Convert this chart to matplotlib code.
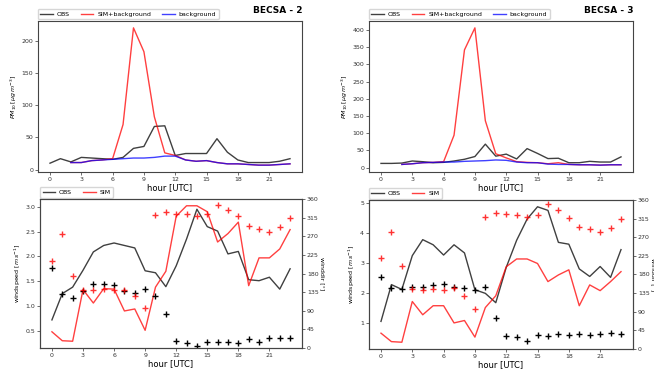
import numpy as np
import matplotlib
matplotlib.use('Agg')
import matplotlib.pyplot as plt

hours = np.arange(24)
xticks = [0, 3, 6, 9, 12, 15, 18, 21]

# PM10 - BECSA 2
obs2 = [10, 17, 12, 19, 18, 17, 16, 19, 33, 36, 67, 68, 22, 25, 25, 25, 48, 27, 15, 11, 11, 11, 13, 17]
bg2 = [np.nan, np.nan, 11, 11, 14, 15, 16, 17, 18, 18, 19, 21, 21, 15, 13, 14, 11, 9, 9, 8, 7, 7, 8, 9]
sim2 = [np.nan, np.nan, 11, 11, 14, 15, 17, 70, 220, 183, 82, 26, 22, 15, 13, 14, 11, 9, 9, 8, 7, 7, 8, 9]

# PM10 - BECSA 3
obs3 = [12, 12, 13, 19, 17, 14, 15, 19, 24, 32, 68, 33, 39, 25, 55, 41, 26, 27, 14, 14, 18, 16, 16, 31]
bg3 = [np.nan, np.nan, 9, 11, 14, 15, 16, 16, 18, 19, 20, 22, 21, 16, 14, 14, 10, 9, 9, 8, 8, 7, 8, 8]
sim3 = [np.nan, np.nan, 9, 11, 14, 15, 17, 94, 342, 406, 136, 40, 28, 17, 15, 14, 11, 14, 9, 8, 8, 7, 8, 8]

# wind - BECSA 2
ws_obs2 = [0.72, 1.25, 1.38, 1.72, 2.09, 2.22, 2.27, 2.22, 2.17, 1.71, 1.67, 1.39,
           1.81, 2.35, 2.95, 2.60, 2.51, 2.05, 2.10, 1.53, 1.51, 1.58, 1.34, 1.75]
ws_sim2 = [0.48, 0.30, 0.29, 1.33, 1.06, 1.35, 1.34, 0.90, 0.94, 0.51, 1.38, 1.70,
           2.81, 3.02, 3.02, 2.90, 2.29, 2.46, 2.69, 1.41, 1.97, 1.97, 2.15, 2.54]
wd_obs2 = [193, 131, 121, 137, 155, 155, 152, 137, 134, 142, 126, 82,
           18, 11, 5, 14, 15, 14, 12, 22, 14, 23, 25, 23]
wd_sim2 = [211, 276, 173, 141, 141, 143, 141, 141, 125, 96, 321, 328,
           324, 324, 318, 324, 346, 334, 318, 295, 288, 280, 292, 315]

# wind - BECSA 3
ws_obs3 = [1.06, 2.28, 2.12, 3.24, 3.77, 3.60, 3.26, 3.60, 3.33, 2.11, 1.99, 1.68,
           2.85, 3.75, 4.45, 4.86, 4.74, 3.68, 3.62, 2.80, 2.55, 2.88, 2.52, 3.44]
ws_sim3 = [0.67, 0.39, 0.37, 1.72, 1.28, 1.58, 1.58, 1.01, 1.09, 0.54, 1.52, 1.91,
           2.87, 3.13, 3.13, 2.98, 2.38, 2.60, 2.77, 1.58, 2.27, 2.08, 2.38, 2.71]
wd_obs3 = [173, 147, 144, 149, 150, 154, 158, 149, 147, 143, 149, 76,
           32, 29, 19, 33, 32, 36, 35, 36, 33, 36, 39, 37]
wd_sim3 = [221, 283, 201, 146, 143, 146, 143, 148, 129, 96, 320, 328,
           325, 324, 318, 324, 350, 337, 317, 295, 290, 282, 292, 313]

plt.rcParams['font.family'] = 'DejaVu Sans'
plt.rcParams['axes.edgecolor'] = '#444444'
plt.rcParams['axes.linewidth'] = 0.8
tfs = 4.5  # tick font size

fig = plt.figure(figsize=(6.54, 3.69), dpi=100)


def style(ax):
    ax.tick_params(labelsize=tfs, length=2, width=0.5, pad=1.5, colors='#333333')
    ax.set_xticks(xticks)
    ax.set_xlabel('hour [UTC]', fontsize=6, labelpad=1)


def add_legend(ax, ncol):
    ax.legend(loc='lower left', bbox_to_anchor=(0, 1.01), ncol=ncol, fontsize=4.5,
              frameon=True, borderaxespad=0, handlelength=2.0, handletextpad=0.6,
              columnspacing=1.8)


def pm_panel(rect, obs, sim, bg, name):
    ax = fig.add_axes(rect)
    ax.plot(hours, obs, color='black', alpha=0.75, lw=1.0, label='OBS')
    ax.plot(hours, sim, color='red', alpha=0.75, lw=1.0, label='SIM+background')
    ax.plot(hours, bg, color='blue', alpha=0.75, lw=1.0, label='background')
    style(ax)
    ax.set_ylabel(r'$PM_{10}\,[\mu g\,m^{-3}]$', fontsize=4.5, labelpad=2)
    add_legend(ax, 3)
    ax.set_title(name, loc='right', fontsize=6.5, fontweight='bold', pad=6)
    return ax


def wind_panel(rect, ws_obs, ws_sim, wd_obs, wd_sim):
    ax = fig.add_axes(rect)
    ax.plot(hours, ws_obs, color='black', alpha=0.75, lw=1.0, label='OBS')
    ax.plot(hours, ws_sim, color='red', alpha=0.75, lw=1.0, label='SIM')
    style(ax)
    ax.set_ylabel(r'windspeed $[m\,s^{-1}]$', fontsize=4.5, labelpad=2)
    add_legend(ax, 2)
    ax2 = ax.twinx()
    ax2.plot(hours, wd_obs, '+', color='black', ms=4, mew=1.0)
    ax2.plot(hours, wd_sim, '+', color='red', alpha=0.8, ms=4, mew=1.0)
    ax2.set_ylim(0, 360)
    ax2.set_yticks(np.arange(0, 361, 45))
    ax2.tick_params(labelsize=tfs, length=2, width=0.5, pad=1.5, colors='#333333')
    ax2.set_ylabel('winddir [°]', fontsize=4.5, rotation=270, labelpad=4)
    return ax


pm_panel([0.0581, 0.5339, 0.4037, 0.4092], obs2, sim2, bg2, 'BECSA - 2')
pm_panel([0.5642, 0.5339, 0.4037, 0.4092], obs3, sim3, bg3, 'BECSA - 3')
wind_panel([0.0612, 0.0569, 0.4006, 0.4038], ws_obs2, ws_sim2, wd_obs2, wd_sim2)
wind_panel([0.5642, 0.0542, 0.4037, 0.4038], ws_obs3, ws_sim3, wd_obs3, wd_sim3)

fig.savefig('out.png', dpi=100)
